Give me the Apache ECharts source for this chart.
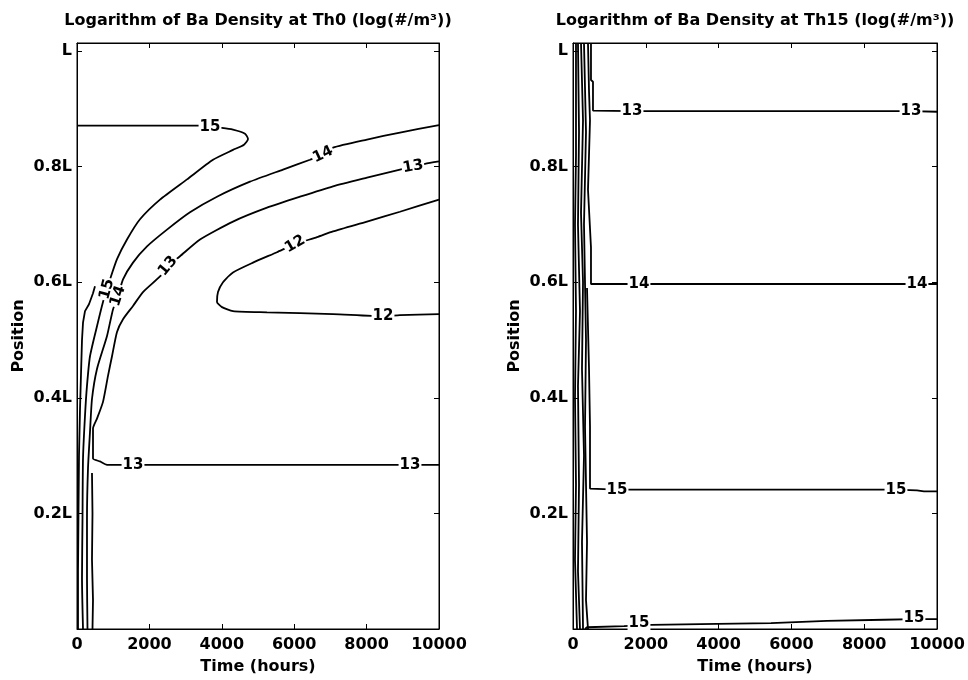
<!DOCTYPE html>
<html>
<head>
<meta charset="utf-8">
<script src="https://cdn.jsdelivr.net/npm/echarts@6/dist/echarts.min.js"></script>
<style>
html,body{margin:0;padding:0;background:#fff;}
#chart{width:968px;height:680px;}
</style>
</head>
<body>
<div id="chart"></div>
<script>
// ---------- data ----------
const titles = ['Logarithm of Ba Density at Th0 (log(#/m\u00B3))', 'Logarithm of Ba Density at Th15 (log(#/m\u00B3))'];
const xTickLabels = ['0', '2000', '4000', '6000', '8000', '10000'];
const yTickLabels = ['', '0.2L', '0.4L', '0.6L', '0.8L', 'L'];
const xName = 'Time (hours)';
const yName = 'Position';

// Th0 contours: [time, position]
const th0_c16 = [[497,0.593],[442,0.581],[331,0.562],[221,0.55],[166,0.53],[138,0.5],[110,0.44],[83,0.38],[55,0.3],[41,0.2],[28,0.1],[28,0]];
const th0_c15 = [[0,0.871],[3398,0.871],[4005,0.867],[4309,0.864],[4641,0.857],[4724,0.848],[4613,0.838],[4309,0.829],[3757,0.812],[3039,0.778],[2293,0.743],[1740,0.709],[1381,0.674],[1105,0.640],[912,0.605],[829,0.588],[718,0.566],[552,0.524],[359,0.472],[276,0.421],[221,0.369],[166,0.295],[152,0.191],[138,0.088],[166,0]];
const th0_c14 = [[10000,0.872],[8922,0.859],[8011,0.847],[7072,0.833],[6795,0.821],[6436,0.812],[5691,0.795],[4779,0.774],[3867,0.748],[3121,0.721],[2486,0.691],[1934,0.662],[1547,0.634],[1271,0.605],[1133,0.576],[994,0.553],[829,0.507],[552,0.450],[414,0.398],[359,0.341],[304,0.278],[276,0.191],[276,0.088],[290,0]];
const th0_c13 = [[10000,0.809],[9613,0.805],[9282,0.800],[8922,0.795],[8011,0.781],[7072,0.766],[6160,0.748],[5249,0.729],[4309,0.705],[3398,0.674],[2845,0.645],[2514,0.628],[2293,0.610],[1823,0.583],[1547,0.559],[1271,0.536],[1105,0.514],[967,0.472],[856,0.438],[718,0.393],[552,0.364],[442,0.347],[442,0.295],[635,0.290],[829,0.284],[1547,0.284],[9199,0.284],[10000,0.284]];
const th0_c13b = [[414,0.27],[428,0.2],[414,0.12],[442,0.05],[428,0]];
const th0_c12 = [[10000,0.743],[8922,0.722],[8011,0.705],[7072,0.688],[6630,0.678],[6022,0.666],[5525,0.652],[4862,0.634],[4309,0.617],[4033,0.600],[3895,0.583],[3867,0.566],[4005,0.557],[4309,0.550],[5249,0.548],[7072,0.545],[8453,0.541],[8922,0.543],[10000,0.545]];
// contour labels: [text, time, position, angle]
const th0_labels = [
  ['15',3674,0.869,0],['15',829,0.588,75],
  ['14',6795,0.821,25],['14',1133,0.576,72],
  ['13',9282,0.800,10],['13',2514,0.628,50],['13',1547,0.284,0],['13',9199,0.284,0],
  ['12',6022,0.666,30],['12',8453,0.541,0]
];

// Th15 contours
const th15_c13 = [[494,1.014],[494,0.95],[549,0.947],[549,0.897],[1621,0.896],[9286,0.896],[10000,0.895]];
const th15_c14 = [[412,1.014],[440,0.93],[467,0.88],[412,0.76],[494,0.66],[494,0.597],[1813,0.597],[9450,0.597],[10000,0.597]];
const th15_c15 = [[385,0.59],[440,0.45],[467,0.35],[467,0.243],[1209,0.241],[8873,0.241],[9450,0.240],[9640,0.238],[10000,0.238]];
const th15_c15b = [[330,0],[385,0.003],[1401,0.005],[2143,0.007],[3956,0.009],[5439,0.010],[6977,0.014],[8543,0.016],[9367,0.017],[10000,0.017]];
const th15_v1 = [[82,1.014],[82,0.82],[55,0.7],[82,0.55],[55,0.4],[82,0.25],[55,0.12],[110,0]];
const th15_v2 = [[137,1.014],[165,0.86],[137,0.7],[192,0.55],[137,0.42],[165,0.25],[137,0.1],[192,0]];
const th15_v3 = [[220,1.014],[275,0.88],[220,0.72],[275,0.6],[247,0.45],[302,0.3],[247,0.15],[275,0]];
const th15_v4 = [[302,1.014],[357,0.86],[302,0.7],[357,0.5],[330,0.35],[385,0.15],[357,0.05],[412,0]];
const th15_labels = [
  ['13',1621,0.896,0],['13',9286,0.896,0],
  ['14',1813,0.597,0],['14',9450,0.597,0],
  ['15',1209,0.241,0],['15',8873,0.241,0],
  ['15',1813,0.011,0],['15',9367,0.019,0]
];

const th0_curves = [th0_c15, th0_c14, th0_c13, th0_c12];
const th0_lines = [th0_c16, th0_c13b];
const th15_lines = [th15_v1, th15_v2, th15_v3, th15_v4, th15_c13, th15_c14, th15_c15, th15_c15b];

// ---------- styling ----------
const FONT = 'DejaVu Sans';
const X_MAX = 10000, Y_MAX = 1.014;

function xFmt(v){ const i = Math.round(v/2000); return Math.abs(v - i*2000) < 1e-6 ? (xTickLabels[i] ?? '') : ''; }
function yFmt(v){ const i = Math.round(v/0.2); return Math.abs(v - i*0.2) < 1e-6 ? (yTickLabels[i] ?? '') : ''; }

const axisLineStyle = {show:true, onZero:false, lineStyle:{color:'#000', width:1}};
const tickStyle = {show:true, inside:true, length:5, lineStyle:{color:'#000', width:1}};

const xAxes = [], yAxes = [], series = [];
const grids = [
  {left:77, top:43, width:362, height:588, show:true, borderColor:'#000', borderWidth:1, backgroundColor:'#fff'},
  {left:573, top:43, width:364, height:588, show:true, borderColor:'#000', borderWidth:1, backgroundColor:'#fff'}
];
[0,1].forEach(g => {
  xAxes.push({gridIndex:g, type:'value', position:'bottom', min:0, max:X_MAX, interval:2000,
    axisLine:axisLineStyle, axisTick:tickStyle, splitLine:{show:false},
    axisLabel:{formatter:xFmt, color:'#000', fontFamily:FONT, fontWeight:'bold', fontSize:16, margin:8},
    name:xName, nameLocation:'middle', nameGap:30,
    nameTextStyle:{color:'#000', fontFamily:FONT, fontWeight:'bold', fontSize:16}});
  xAxes.push({gridIndex:g, type:'value', position:'top', min:0, max:X_MAX, interval:2000,
    axisLine:axisLineStyle, axisTick:tickStyle, splitLine:{show:false}, axisLabel:{show:false},
    name:titles[g], nameLocation:'middle', nameGap:14,
    nameTextStyle:{color:'#000', fontFamily:FONT, fontWeight:'bold', fontSize:16}});
  yAxes.push({gridIndex:g, type:'value', position:'left', min:0, max:Y_MAX, interval:0.2,
    axisLine:axisLineStyle, axisTick:tickStyle, splitLine:{show:false},
    axisLabel:{formatter:yFmt, color:'#000', fontFamily:FONT, fontWeight:'bold', fontSize:16, margin:5, showMaxLabel:false},
    name:yName, nameLocation:'middle', nameGap:50,
    nameTextStyle:{color:'#000', fontFamily:FONT, fontWeight:'bold', fontSize:16}});
  yAxes.push({gridIndex:g, type:'value', position:'right', min:0, max:Y_MAX, interval:0.2,
    axisLine:axisLineStyle, axisTick:tickStyle, splitLine:{show:false}, axisLabel:{show:false}});
});

function addLines(lines, ai, smooth){
  lines.forEach(d => series.push({type:'line', data:d, xAxisIndex:ai, yAxisIndex:ai,
    symbol:'none', showSymbol:false, silent:true, z:2, smooth:smooth,
    lineStyle:{color:'#000', width:1.8}}));
}
function addLabels(list, ai){
  series.push({type:'scatter', xAxisIndex:ai, yAxisIndex:ai, symbolSize:1, silent:true, z:5,
    itemStyle:{color:'transparent'},
    data:list.map(l => ({name:l[0], value:[l[1], l[2]], label:{rotate:l[3]}})),
    label:{show:true, position:'inside', formatter:p => p.name, color:'#000', opacity:1,
      textBorderWidth:0, fontFamily:FONT, fontWeight:'bold', fontSize:15,
      backgroundColor:'#fff', padding:[0,1], lineHeight:15}});
}
addLines(th0_curves, 0, 0.2); addLines(th0_lines, 0, false); addLabels(th0_labels, 0);
addLines(th15_lines, 2, false); addLabels(th15_labels, 2);

const chart = echarts.init(document.getElementById('chart'), null, {renderer:'canvas'});
chart.setOption({animation:false, backgroundColor:'#fff', grid:grids, xAxis:xAxes, yAxis:yAxes, series:series});
</script>
</body>
</html>
